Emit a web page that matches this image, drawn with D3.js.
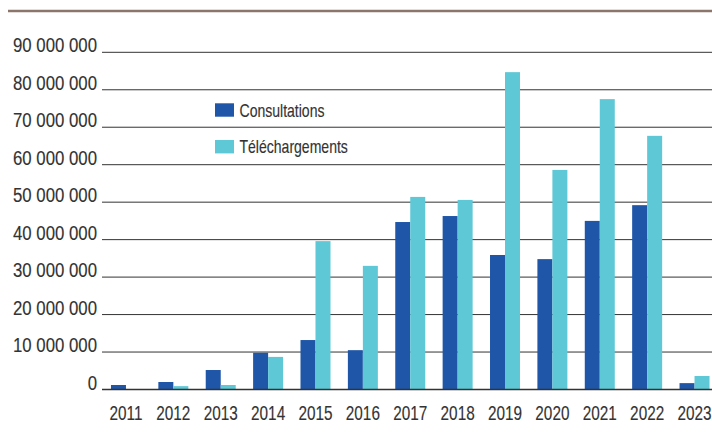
<!DOCTYPE html>
<html><head><meta charset="utf-8">
<script src="https://cdn.jsdelivr.net/npm/d3@7"></script>
<style>body{margin:0;background:#fff}svg{display:block}text{font-family:"Liberation Sans",Arial,sans-serif;fill:#333;stroke:#333;stroke-width:0.15px}</style>
</head><body><svg id="c" width="712" height="432"></svg>
<script>
const years = ["2011","2012","2013","2014","2015","2016","2017","2018","2019","2020","2021","2022","2023"];
const consultations = [1200000,2000000,5200000,9800000,13200000,10500000,44700000,46300000,35900000,34800000,45000000,49200000,1700000];
const telechargements = [0,900000,1200000,8700000,39600000,33000000,51400000,50600000,84700000,58600000,77500000,67700000,3600000];
const seriesNames = ["Consultations","Téléchargements"];
const colors = ["#1f56a8","#5ec8d6"];
const yTicks = [0,10000000,20000000,30000000,40000000,50000000,60000000,70000000,80000000,90000000];

const svg = d3.select("#c");
const x = d3.scaleBand().domain(years).range([102.3,718.2]).paddingInner(0.367).paddingOuter(0.183);
const y = d3.scaleLinear().domain([0,90000000]).range([389.5,52.3]);
const xs = d3.scaleBand().domain([0,1]).range([0,x.bandwidth()]);
const fmt = v => d3.format(",")(v).replace(/,/g," ");

// top rule
svg.append("line").attr("x1",8).attr("x2",712).attr("y1",11).attr("y2",11)
  .attr("stroke","#8c766c").attr("stroke-width",2.5);

// grid
svg.append("g").selectAll("line").data(yTicks).join("line")
  .attr("x1",102).attr("x2",712).attr("y1",d=>y(d)).attr("y2",d=>y(d))
  .attr("stroke","#333").attr("stroke-width",1);
svg.append("g").selectAll("text").data(yTicks).join("text")
  .attr("transform",d=>`translate(97,${y(d)}) scale(0.8,1)`).attr("text-anchor","end")
  .style("font-size","21px").text(fmt);

// bars
const data = [consultations, telechargements];
data.forEach((vals,si)=>{
  svg.append("g").selectAll("rect").data(vals).join("rect")
    .attr("x",(d,i)=>x(years[i])+xs(si)).attr("width",xs.bandwidth())
    .attr("y",d=>y(d)).attr("height",d=>y(0)-y(d)).attr("fill",colors[si]);
});
// baseline
svg.append("line").attr("x1",102).attr("x2",712).attr("y1",y(0)).attr("y2",y(0))
  .attr("stroke","#333").attr("stroke-width",1.5);

// x labels
svg.append("g").selectAll("text").data(years).join("text")
  .attr("transform",d=>`translate(${x(d)+x.bandwidth()/2},420) scale(0.73,1)`).attr("text-anchor","middle")
  .style("font-size","21px").text(d=>d);

// legend
const lg = svg.append("g");
seriesNames.forEach((n,i)=>{
  lg.append("rect").attr("x",215).attr("y",103.3+i*36.7).attr("width",19).attr("height",13.4).attr("fill",colors[i]);
  lg.append("text").attr("transform",`translate(239.5,${116.5+i*36.7}) scale(0.78,1)`).style("font-size","18px").text(n);
});
</script></body></html>
